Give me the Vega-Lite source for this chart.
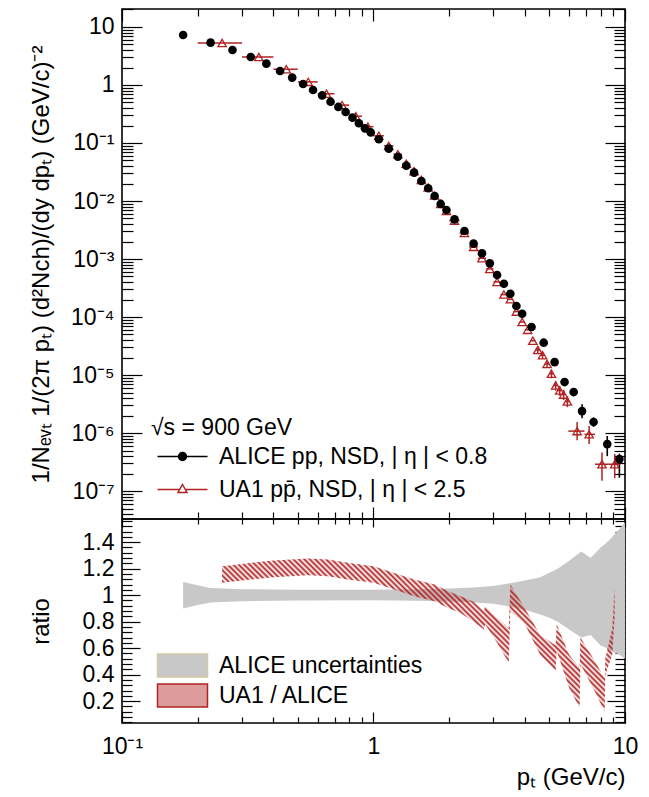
{
  "$schema": "https://vega.github.io/schema/vega-lite/v6.json",
  "autosize": {"type": "pad"},
  "padding": {"left": 28, "top": 7, "right": 5, "bottom": 5},
  "background": "white",
  "spacing": 0,
  "bounds": "flush",
  "resolve": {"scale": {"fill": "independent", "stroke": "independent", "shape": "independent"}, "legend": {"fill": "independent", "stroke": "independent", "shape": "independent"}},
  "config": {
    "view": {"stroke": "black", "strokeWidth": 1.6},
    "font": "Liberation Sans",
    "axis": {"domain": false, "grid": false, "labelFont": "Liberation Sans", "labelFontSize": 23, "labelColor": "black", "titleFont": "Liberation Sans", "titleFontSize": 24, "titleFontWeight": "normal", "titleColor": "black", "tickColor": "black", "tickWidth": 1.2, "labelFlush": false, "labelOverlap": false, "labelBound": false, "zindex": 1},
    "legend": {"labelFont": "Liberation Sans", "labelFontSize": 23, "labelColor": "black", "labelLimit": 500, "titleFont": "Liberation Sans", "titleFontSize": 23, "titleFontWeight": "normal", "titleColor": "black", "padding": 0}
  },
  "datasets": {
    "alice": [
      {"pt": 0.175, "y": 7.28}, {"pt": 0.225, "y": 5.36}, {"pt": 0.275, "y": 4.01}, {"pt": 0.325, "y": 3.04},
      {"pt": 0.375, "y": 2.33}, {"pt": 0.425, "y": 1.74}, {"pt": 0.475, "y": 1.34}, {"pt": 0.525, "y": 1.04},
      {"pt": 0.575, "y": 0.82}, {"pt": 0.625, "y": 0.66}, {"pt": 0.675, "y": 0.515}, {"pt": 0.725, "y": 0.418},
      {"pt": 0.775, "y": 0.342}, {"pt": 0.825, "y": 0.273}, {"pt": 0.875, "y": 0.219}, {"pt": 0.925, "y": 0.179},
      {"pt": 0.975, "y": 0.152}, {"pt": 1.05, "y": 0.116}, {"pt": 1.15, "y": 0.0798}, {"pt": 1.25, "y": 0.058},
      {"pt": 1.35, "y": 0.0406}, {"pt": 1.45, "y": 0.0308}, {"pt": 1.55, "y": 0.0221}, {"pt": 1.65, "y": 0.0166},
      {"pt": 1.75, "y": 0.0122}, {"pt": 1.85, "y": 0.0089}, {"pt": 1.95, "y": 0.007}, {"pt": 2.1, "y": 0.00483},
      {"pt": 2.3, "y": 0.00304}, {"pt": 2.5, "y": 0.00184}, {"pt": 2.7, "y": 0.00125}, {"pt": 2.9, "y": 0.000843},
      {"pt": 3.1, "y": 0.00053}, {"pt": 3.3, "y": 0.000375}, {"pt": 3.5, "y": 0.000252}, {"pt": 3.7, "y": 0.000155},
      {"pt": 3.9, "y": 0.000114}, {"pt": 4.25, "y": 6.73e-5}, {"pt": 4.75, "y": 3.61e-5}, {"pt": 5.25, "y": 1.67e-5},
      {"pt": 5.75, "y": 7.57e-6},
      {"pt": 6.25, "y": 5.09e-6, "ylo": 4.5e-6, "yhi": 5.7e-6},
      {"pt": 6.75, "y": 2.39e-6, "ylo": 1.8e-6, "yhi": 3.15e-6},
      {"pt": 7.5, "y": 1.55e-6, "ylo": 1.28e-6, "yhi": 1.86e-6},
      {"pt": 8.5, "y": 6.46e-7, "ylo": 4.0e-7, "yhi": 8.9e-7},
      {"pt": 9.5, "y": 3.56e-7, "ylo": 1.7e-7, "yhi": 4.4e-7}
    ],
    "ua1": [
      {"pt": 0.25, "lo": 0.2, "hi": 0.3, "y": 5.3},
      {"pt": 0.35, "lo": 0.3, "hi": 0.4, "y": 3.04},
      {"pt": 0.45, "lo": 0.4, "hi": 0.5, "y": 1.87},
      {"pt": 0.55, "lo": 0.5, "hi": 0.6, "y": 1.13},
      {"pt": 0.65, "lo": 0.6, "hi": 0.7, "y": 0.705},
      {"pt": 0.75, "lo": 0.7, "hi": 0.8, "y": 0.45},
      {"pt": 0.85, "lo": 0.8, "hi": 0.9, "y": 0.289},
      {"pt": 0.95, "lo": 0.9, "hi": 1.0, "y": 0.191},
      {"pt": 1.05, "lo": 1.0, "hi": 1.1, "y": 0.133},
      {"pt": 1.15, "lo": 1.1, "hi": 1.2, "y": 0.0894},
      {"pt": 1.25, "lo": 1.2, "hi": 1.3, "y": 0.0638},
      {"pt": 1.35, "lo": 1.3, "hi": 1.4, "y": 0.0438},
      {"pt": 1.45, "lo": 1.4, "hi": 1.5, "y": 0.0326},
      {"pt": 1.55, "lo": 1.5, "hi": 1.6, "y": 0.023},
      {"pt": 1.65, "lo": 1.6, "hi": 1.7, "y": 0.0171},
      {"pt": 1.75, "lo": 1.7, "hi": 1.8, "y": 0.0124},
      {"pt": 1.85, "lo": 1.8, "hi": 1.9, "y": 0.0089},
      {"pt": 1.95, "lo": 1.9, "hi": 2.0, "y": 0.00676},
      {"pt": 2.1, "lo": 2.0, "hi": 2.2, "y": 0.00459},
      {"pt": 2.3, "lo": 2.2, "hi": 2.4, "y": 0.0028},
      {"pt": 2.5, "lo": 2.4, "hi": 2.6, "y": 0.00162},
      {"pt": 2.7, "lo": 2.6, "hi": 2.8, "y": 0.00103},
      {"pt": 2.9, "lo": 2.8, "hi": 3.0, "y": 0.000674},
      {"pt": 3.1, "lo": 3.0, "hi": 3.2, "y": 0.000403},
      {"pt": 3.3, "lo": 3.2, "hi": 3.4, "y": 0.000244},
      {"pt": 3.5, "lo": 3.4, "hi": 3.6, "y": 0.000202},
      {"pt": 3.7, "lo": 3.6, "hi": 3.8, "y": 0.000124},
      {"pt": 3.9, "lo": 3.8, "hi": 4.0, "y": 8.2e-5},
      {"pt": 4.1, "lo": 4.0, "hi": 4.2, "y": 6.0e-5},
      {"pt": 4.3, "lo": 4.2, "hi": 4.4, "y": 3.9e-5},
      {"pt": 4.5, "lo": 4.4, "hi": 4.6, "y": 2.7e-5, "ylo": 2.3e-5, "yhi": 3.1e-5},
      {"pt": 4.7, "lo": 4.6, "hi": 4.8, "y": 2.2e-5, "ylo": 1.9e-5, "yhi": 2.5e-5},
      {"pt": 4.9, "lo": 4.8, "hi": 5.0, "y": 1.55e-5, "ylo": 1.32e-5, "yhi": 1.78e-5},
      {"pt": 5.1, "lo": 5.0, "hi": 5.2, "y": 1.05e-5, "ylo": 8.8e-6, "yhi": 1.24e-5},
      {"pt": 5.3, "lo": 5.2, "hi": 5.4, "y": 6.6e-6, "ylo": 5.4e-6, "yhi": 7.9e-6},
      {"pt": 5.5, "lo": 5.4, "hi": 5.6, "y": 5.4e-6, "ylo": 4.4e-6, "yhi": 6.5e-6},
      {"pt": 5.7, "lo": 5.6, "hi": 5.8, "y": 4.6e-6, "ylo": 3.7e-6, "yhi": 5.6e-6},
      {"pt": 5.9, "lo": 5.8, "hi": 6.0, "y": 3.5e-6, "ylo": 2.8e-6, "yhi": 4.3e-6},
      {"pt": 6.45, "lo": 5.95, "hi": 6.9, "y": 1.08e-6, "ylo": 7.5e-7, "yhi": 1.55e-6},
      {"pt": 7.2, "lo": 6.9, "hi": 7.6, "y": 9.5e-7, "ylo": 6.5e-7, "yhi": 1.32e-6},
      {"pt": 8.1, "lo": 7.6, "hi": 8.6, "y": 2.9e-7, "ylo": 1.5e-7, "yhi": 4.6e-7},
      {"pt": 9.1, "lo": 8.6, "hi": 9.6, "y": 2.9e-7, "ylo": 1.67e-7, "yhi": 4.35e-7}
    ],
    "legtop": [
      {"series": "ALICE pp, NSD, | \u03b7 | < 0.8"},
      {"series": "UA1 pp\u0304, NSD, | \u03b7 | < 2.5"}
    ],
    "band": [
      {"series": "ALICE uncertainties", "pt": 0.175, "lo": 0.9, "hi": 1.1},
      {"series": "ALICE uncertainties", "pt": 0.2, "lo": 0.925, "hi": 1.075},
      {"series": "ALICE uncertainties", "pt": 0.225, "lo": 0.945, "hi": 1.055},
      {"series": "ALICE uncertainties", "pt": 0.3, "lo": 0.955, "hi": 1.045},
      {"series": "ALICE uncertainties", "pt": 0.5, "lo": 0.96, "hi": 1.04},
      {"series": "ALICE uncertainties", "pt": 1.0, "lo": 0.962, "hi": 1.04},
      {"series": "ALICE uncertainties", "pt": 1.5, "lo": 0.958, "hi": 1.045},
      {"series": "ALICE uncertainties", "pt": 2.0, "lo": 0.953, "hi": 1.05},
      {"series": "ALICE uncertainties", "pt": 2.5, "lo": 0.945, "hi": 1.058},
      {"series": "ALICE uncertainties", "pt": 3.0, "lo": 0.935, "hi": 1.07},
      {"series": "ALICE uncertainties", "pt": 3.5, "lo": 0.915, "hi": 1.09},
      {"series": "ALICE uncertainties", "pt": 4.0, "lo": 0.89, "hi": 1.11},
      {"series": "ALICE uncertainties", "pt": 4.6, "lo": 0.855, "hi": 1.135},
      {"series": "ALICE uncertainties", "pt": 5.0, "lo": 0.83, "hi": 1.17},
      {"series": "ALICE uncertainties", "pt": 5.4, "lo": 0.8, "hi": 1.2},
      {"series": "ALICE uncertainties", "pt": 6.0, "lo": 0.74, "hi": 1.26},
      {"series": "ALICE uncertainties", "pt": 6.7, "lo": 0.68, "hi": 1.33},
      {"series": "ALICE uncertainties", "pt": 7.3, "lo": 0.7, "hi": 1.28},
      {"series": "ALICE uncertainties", "pt": 8.0, "lo": 0.62, "hi": 1.36},
      {"series": "ALICE uncertainties", "pt": 8.5, "lo": 0.6, "hi": 1.4},
      {"series": "ALICE uncertainties", "pt": 9.0, "lo": 0.57, "hi": 1.45},
      {"series": "ALICE uncertainties", "pt": 9.5, "lo": 0.55, "hi": 1.5},
      {"series": "ALICE uncertainties", "pt": 10, "lo": 0.52, "hi": 1.55}
    ],
    "hatch": [
      {"pt": 0.25, "lo": 1.093, "hi": 1.219},
      {"pt": 0.3, "lo": 1.111, "hi": 1.236},
      {"pt": 0.4, "lo": 1.136, "hi": 1.262},
      {"pt": 0.55, "lo": 1.151, "hi": 1.277},
      {"pt": 0.66, "lo": 1.143, "hi": 1.269},
      {"pt": 0.79, "lo": 1.118, "hi": 1.244},
      {"pt": 1.0, "lo": 1.093, "hi": 1.219},
      {"pt": 1.21, "lo": 1.043, "hi": 1.168},
      {"pt": 1.45, "lo": 0.992, "hi": 1.118},
      {"pt": 1.75, "lo": 0.955, "hi": 1.081},
      {"pt": 1.98, "lo": 0.904, "hi": 1.03},
      {"pt": 2.22, "lo": 0.866, "hi": 0.992},
      {"pt": 2.5, "lo": 0.8, "hi": 0.95},
      {"pt": 2.75, "lo": 0.74, "hi": 0.88},
      {"pt": 2.78, "lo": 0.78, "hi": 0.92},
      {"pt": 3.1, "lo": 0.64, "hi": 0.83},
      {"pt": 3.45, "lo": 0.49, "hi": 0.75},
      {"pt": 3.5, "lo": 0.88, "hi": 1.08},
      {"pt": 4.0, "lo": 0.78, "hi": 0.9},
      {"pt": 4.6, "lo": 0.55, "hi": 0.7},
      {"pt": 5.3, "lo": 0.43, "hi": 0.62},
      {"pt": 5.35, "lo": 0.58, "hi": 0.78},
      {"pt": 6.0, "lo": 0.3, "hi": 0.55},
      {"pt": 6.6, "lo": 0.15, "hi": 0.45},
      {"pt": 6.65, "lo": 0.48, "hi": 0.68},
      {"pt": 7.6, "lo": 0.27, "hi": 0.5},
      {"pt": 8.3, "lo": 0.12, "hi": 0.37},
      {"pt": 8.35, "lo": 0.4, "hi": 0.52},
      {"pt": 8.9, "lo": 0.55, "hi": 0.75},
      {"pt": 9.1, "lo": 0.85, "hi": 1.06}
    ]
  },
  "vconcat": [
    {
      "width": 503,
      "height": 510,
      "resolve": {"axis": {"x": "independent", "y": "independent"}},
      "layer": [
        {
          "data": {"name": "alice"},
          "transform": [{"filter": "isValid(datum.ylo)"}],
          "mark": {"type": "rule", "color": "black", "strokeWidth": 1.6},
          "encoding": {
            "x": {"field": "pt", "type": "quantitative", "scale": {"type": "log", "domain": [0.1, 10], "nice": false},
                  "axis": {"orient": "bottom", "values": [0.1, 1, 10], "labels": false, "tickSize": -12, "title": null}},
            "y": {"field": "ylo", "type": "quantitative", "scale": {"type": "log", "domain": [3.3e-8, 20.4], "nice": false},
                  "axis": {"orient": "left", "values": [1e-7, 1e-6, 1e-5, 1e-4, 0.001, 0.01, 0.1, 1, 10], "tickSize": -20, "labelPadding": 28,
                           "labelExpr": "datum.value > 5 ? '10' : datum.value > 0.5 ? '1' : datum.value > 0.05 ? '10⁻¹' : datum.value > 0.005 ? '10⁻²' : datum.value > 0.0005 ? '10⁻³' : datum.value > 0.00005 ? '10⁻⁴' : datum.value > 0.000005 ? '10⁻⁵' : datum.value > 0.0000005 ? '10⁻⁶' : '10⁻⁷'",
                           "title": "1/Nₑᵥₜ 1/(2π pₜ) (d²Nch)/(dy dpₜ) (GeV/c)⁻²", "titleX": -81, "titleY": 255, "titleAngle": 270, "titleAlign": "center", "titleBaseline": "middle"}},
            "y2": {"field": "yhi"}
          }
        },
        {
          "data": {"name": "ua1"},
          "mark": {"type": "rule", "color": "#b22222", "strokeWidth": 1.5},
          "encoding": {
            "x": {"field": "lo", "type": "quantitative", "scale": {"type": "log", "domain": [0.1, 10], "nice": false},
                  "axis": {"orient": "bottom", "values": [0.2, 0.3, 0.4, 0.5, 0.6, 0.7, 0.8, 0.9, 2, 3, 4, 5, 6, 7, 8, 9], "labels": false, "tickSize": -7, "title": null}},
            "x2": {"field": "hi"},
            "y": {"field": "y", "type": "quantitative", "scale": {"type": "log", "domain": [3.3e-8, 20.4], "nice": false},
                  "axis": {"orient": "left", "values": [4e-8, 5e-8, 6e-8, 7e-8, 8e-8, 9e-8, 2e-7, 3e-7, 4e-7, 5e-7, 6e-7, 7e-7, 8e-7, 9e-7, 2e-6, 3e-6, 4e-6, 5e-6, 6e-6, 7e-6, 8e-6, 9e-6, 2e-5, 3e-5, 4e-5, 5e-5, 6e-5, 7e-5, 8e-5, 9e-5, 2e-4, 3e-4, 4e-4, 5e-4, 6e-4, 7e-4, 8e-4, 9e-4, 0.002, 0.003, 0.004, 0.005, 0.006, 0.007, 0.008, 0.009, 0.02, 0.03, 0.04, 0.05, 0.06, 0.07, 0.08, 0.09, 0.2, 0.3, 0.4, 0.5, 0.6, 0.7, 0.8, 0.9, 2, 3, 4, 5, 6, 7, 8, 9, 20], "labels": false, "tickSize": -11, "title": null}}
          }
        },
        {
          "data": {"name": "ua1"},
          "transform": [{"filter": "isValid(datum.ylo)"}],
          "mark": {"type": "rule", "color": "#b22222", "strokeWidth": 1.5},
          "encoding": {
            "x": {"field": "pt", "type": "quantitative", "scale": {"type": "log", "domain": [0.1, 10], "nice": false},
                  "axis": {"orient": "top", "values": [0.1, 1, 10], "labels": false, "tickSize": -12, "title": null}},
            "y": {"field": "ylo", "type": "quantitative", "scale": {"type": "log", "domain": [3.3e-8, 20.4], "nice": false},
                  "axis": {"orient": "right", "values": [1e-7, 1e-6, 1e-5, 1e-4, 0.001, 0.01, 0.1, 1, 10], "labels": false, "tickSize": -20, "title": null}},
            "y2": {"field": "yhi"}
          }
        },
        {
          "data": {"name": "ua1"},
          "mark": {"type": "point", "shape": "triangle-up", "filled": false, "stroke": "#b22222", "strokeWidth": 1.3, "size": 70, "opacity": 1},
          "encoding": {
            "x": {"field": "pt", "type": "quantitative", "scale": {"type": "log", "domain": [0.1, 10], "nice": false},
                  "axis": {"orient": "top", "values": [0.2, 0.3, 0.4, 0.5, 0.6, 0.7, 0.8, 0.9, 2, 3, 4, 5, 6, 7, 8, 9], "labels": false, "tickSize": -7, "title": null}},
            "y": {"field": "y", "type": "quantitative", "scale": {"type": "log", "domain": [3.3e-8, 20.4], "nice": false},
                  "axis": {"orient": "right", "values": [4e-8, 5e-8, 6e-8, 7e-8, 8e-8, 9e-8, 2e-7, 3e-7, 4e-7, 5e-7, 6e-7, 7e-7, 8e-7, 9e-7, 2e-6, 3e-6, 4e-6, 5e-6, 6e-6, 7e-6, 8e-6, 9e-6, 2e-5, 3e-5, 4e-5, 5e-5, 6e-5, 7e-5, 8e-5, 9e-5, 2e-4, 3e-4, 4e-4, 5e-4, 6e-4, 7e-4, 8e-4, 9e-4, 0.002, 0.003, 0.004, 0.005, 0.006, 0.007, 0.008, 0.009, 0.02, 0.03, 0.04, 0.05, 0.06, 0.07, 0.08, 0.09, 0.2, 0.3, 0.4, 0.5, 0.6, 0.7, 0.8, 0.9, 2, 3, 4, 5, 6, 7, 8, 9, 20], "labels": false, "tickSize": -11, "title": null}}
          }
        },
        {
          "data": {"name": "alice"},
          "mark": {"type": "point", "shape": "circle", "filled": true, "color": "black", "size": 75, "opacity": 1},
          "encoding": {
            "x": {"field": "pt", "type": "quantitative", "scale": {"type": "log", "domain": [0.1, 10], "nice": false}, "axis": null},
            "y": {"field": "y", "type": "quantitative", "scale": {"type": "log", "domain": [3.3e-8, 20.4], "nice": false}, "axis": null}
          }
        },
        {
          "data": {"name": "legtop"},
          "mark": {"type": "point", "opacity": 0},
          "encoding": {
            "shape": {"field": "series", "type": "nominal",
                      "scale": {"domain": ["ALICE pp, NSD, | \u03b7 | < 0.8", "UA1 pp\u0304, NSD, | \u03b7 | < 2.5"],
                                "range": ["M-0.5,0H4.5M1.6,0A0.4,0.4 0 1,1 2.4,0A0.4,0.4 0 1,1 1.6,0Z", "M-0.5,0H1.75M2.25,0H4.5M2,-0.5L2.45,0.3L1.55,0.3Z"]},
                      "legend": {"orient": "none", "legendX": 29, "legendY": 408, "title": "√s = 900 GeV", "titlePadding": 5, "symbolSize": 400, "symbolStrokeWidth": 1.5, "labelOffset": 45, "rowPadding": 9, "symbolOpacity": 1}},
            "stroke": {"field": "series", "type": "nominal",
                       "scale": {"domain": ["ALICE pp, NSD, | \u03b7 | < 0.8", "UA1 pp\u0304, NSD, | \u03b7 | < 2.5"], "range": ["black", "#b22222"]}},
            "fill": {"field": "series", "type": "nominal",
                     "scale": {"domain": ["ALICE pp, NSD, | \u03b7 | < 0.8", "UA1 pp\u0304, NSD, | \u03b7 | < 2.5"], "range": ["black", "white"]}}
          }
        }
      ]
    },
    {
      "width": 503,
      "height": 204,
      "resolve": {"axis": {"x": "independent", "y": "independent"}},
      "layer": [
        {
          "data": {"name": "band"},
          "mark": {"type": "area", "clip": true},
          "encoding": {
            "x": {"field": "pt", "type": "quantitative", "scale": {"type": "log", "domain": [0.1, 10], "nice": false},
                  "axis": {"orient": "bottom", "values": [0.1, 1, 10], "tickSize": -11, "labelPadding": 23,
                           "labelExpr": "datum.value < 0.5 ? '10⁻¹' : datum.value < 5 ? '1' : '10'",
                           "title": "pₜ (GeV/c)", "titleX": 503, "titleY": 61, "titleAlign": "right", "titleBaseline": "alphabetic"}},
            "y": {"field": "lo", "type": "quantitative", "scale": {"domain": [0.035, 1.575], "nice": false, "zero": false},
                  "axis": {"orient": "left", "values": [0.2, 0.4, 0.6, 0.8, 1, 1.2, 1.4], "tickSize": -18, "labelPadding": 26,
                           "labelExpr": "datum.value == 1 ? '1' : format(datum.value, '.1f')",
                           "title": "ratio", "titleX": -81, "titleY": 102, "titleAngle": 270, "titleAlign": "center", "titleBaseline": "middle"}},
            "y2": {"field": "hi"},
            "fill": {"field": "series", "type": "nominal",
                     "scale": {"domain": ["ALICE uncertainties", "UA1 / ALICE"], "range": ["#c8c8c8", "#dc9c9c"]},
                     "legend": {"orient": "none", "legendX": 29, "legendY": 135, "title": null, "symbolSize": 400, "symbolType": "M-0.5,-1.15H4.5V1.15H-0.5Z", "symbolStrokeWidth": 1.5, "symbolStrokeColor": "#b22222", "labelOffset": 45, "rowPadding": 1,
                                "encode": {"symbols": {"update": {"stroke": {"signal": "datum.value === 'UA1 / ALICE' ? '#b22222' : '#d2c7a2'"}, "strokeWidth": {"value": 1.5}, "opacity": {"value": 1}}}}}}
          }
        },
        {
          "data": {"name": "hatch"},
          "mark": {"type": "area", "clip": true,
                   "fill": {"gradient": "linear", "x1": 0, "y1": 1, "x2": 1.2065, "y2": 0.5289, "stops": [
{"offset":0,"color":"#b22222"},{"offset":0.005,"color":"rgba(178,34,34,0)"},{"offset":0.01,"color":"#b22222"},{"offset":0.015,"color":"rgba(178,34,34,0)"},{"offset":0.02,"color":"#b22222"},{"offset":0.025,"color":"rgba(178,34,34,0)"},{"offset":0.03,"color":"#b22222"},{"offset":0.035,"color":"rgba(178,34,34,0)"},{"offset":0.04,"color":"#b22222"},{"offset":0.045,"color":"rgba(178,34,34,0)"},
{"offset":0.05,"color":"#b22222"},{"offset":0.055,"color":"rgba(178,34,34,0)"},{"offset":0.06,"color":"#b22222"},{"offset":0.065,"color":"rgba(178,34,34,0)"},{"offset":0.07,"color":"#b22222"},{"offset":0.075,"color":"rgba(178,34,34,0)"},{"offset":0.08,"color":"#b22222"},{"offset":0.085,"color":"rgba(178,34,34,0)"},{"offset":0.09,"color":"#b22222"},{"offset":0.095,"color":"rgba(178,34,34,0)"},
{"offset":0.1,"color":"#b22222"},{"offset":0.105,"color":"rgba(178,34,34,0)"},{"offset":0.11,"color":"#b22222"},{"offset":0.115,"color":"rgba(178,34,34,0)"},{"offset":0.12,"color":"#b22222"},{"offset":0.125,"color":"rgba(178,34,34,0)"},{"offset":0.13,"color":"#b22222"},{"offset":0.135,"color":"rgba(178,34,34,0)"},{"offset":0.14,"color":"#b22222"},{"offset":0.145,"color":"rgba(178,34,34,0)"},
{"offset":0.15,"color":"#b22222"},{"offset":0.155,"color":"rgba(178,34,34,0)"},{"offset":0.16,"color":"#b22222"},{"offset":0.165,"color":"rgba(178,34,34,0)"},{"offset":0.17,"color":"#b22222"},{"offset":0.175,"color":"rgba(178,34,34,0)"},{"offset":0.18,"color":"#b22222"},{"offset":0.185,"color":"rgba(178,34,34,0)"},{"offset":0.19,"color":"#b22222"},{"offset":0.195,"color":"rgba(178,34,34,0)"},
{"offset":0.2,"color":"#b22222"},{"offset":0.205,"color":"rgba(178,34,34,0)"},{"offset":0.21,"color":"#b22222"},{"offset":0.215,"color":"rgba(178,34,34,0)"},{"offset":0.22,"color":"#b22222"},{"offset":0.225,"color":"rgba(178,34,34,0)"},{"offset":0.23,"color":"#b22222"},{"offset":0.235,"color":"rgba(178,34,34,0)"},{"offset":0.24,"color":"#b22222"},{"offset":0.245,"color":"rgba(178,34,34,0)"},
{"offset":0.25,"color":"#b22222"},{"offset":0.255,"color":"rgba(178,34,34,0)"},{"offset":0.26,"color":"#b22222"},{"offset":0.265,"color":"rgba(178,34,34,0)"},{"offset":0.27,"color":"#b22222"},{"offset":0.275,"color":"rgba(178,34,34,0)"},{"offset":0.28,"color":"#b22222"},{"offset":0.285,"color":"rgba(178,34,34,0)"},{"offset":0.29,"color":"#b22222"},{"offset":0.295,"color":"rgba(178,34,34,0)"},
{"offset":0.3,"color":"#b22222"},{"offset":0.305,"color":"rgba(178,34,34,0)"},{"offset":0.31,"color":"#b22222"},{"offset":0.315,"color":"rgba(178,34,34,0)"},{"offset":0.32,"color":"#b22222"},{"offset":0.325,"color":"rgba(178,34,34,0)"},{"offset":0.33,"color":"#b22222"},{"offset":0.335,"color":"rgba(178,34,34,0)"},{"offset":0.34,"color":"#b22222"},{"offset":0.345,"color":"rgba(178,34,34,0)"},
{"offset":0.35,"color":"#b22222"},{"offset":0.355,"color":"rgba(178,34,34,0)"},{"offset":0.36,"color":"#b22222"},{"offset":0.365,"color":"rgba(178,34,34,0)"},{"offset":0.37,"color":"#b22222"},{"offset":0.375,"color":"rgba(178,34,34,0)"},{"offset":0.38,"color":"#b22222"},{"offset":0.385,"color":"rgba(178,34,34,0)"},{"offset":0.39,"color":"#b22222"},{"offset":0.395,"color":"rgba(178,34,34,0)"},
{"offset":0.4,"color":"#b22222"},{"offset":0.405,"color":"rgba(178,34,34,0)"},{"offset":0.41,"color":"#b22222"},{"offset":0.415,"color":"rgba(178,34,34,0)"},{"offset":0.42,"color":"#b22222"},{"offset":0.425,"color":"rgba(178,34,34,0)"},{"offset":0.43,"color":"#b22222"},{"offset":0.435,"color":"rgba(178,34,34,0)"},{"offset":0.44,"color":"#b22222"},{"offset":0.445,"color":"rgba(178,34,34,0)"},
{"offset":0.45,"color":"#b22222"},{"offset":0.455,"color":"rgba(178,34,34,0)"},{"offset":0.46,"color":"#b22222"},{"offset":0.465,"color":"rgba(178,34,34,0)"},{"offset":0.47,"color":"#b22222"},{"offset":0.475,"color":"rgba(178,34,34,0)"},{"offset":0.48,"color":"#b22222"},{"offset":0.485,"color":"rgba(178,34,34,0)"},{"offset":0.49,"color":"#b22222"},{"offset":0.495,"color":"rgba(178,34,34,0)"},
{"offset":0.5,"color":"#b22222"},{"offset":0.505,"color":"rgba(178,34,34,0)"},{"offset":0.51,"color":"#b22222"},{"offset":0.515,"color":"rgba(178,34,34,0)"},{"offset":0.52,"color":"#b22222"},{"offset":0.525,"color":"rgba(178,34,34,0)"},{"offset":0.53,"color":"#b22222"},{"offset":0.535,"color":"rgba(178,34,34,0)"},{"offset":0.54,"color":"#b22222"},{"offset":0.545,"color":"rgba(178,34,34,0)"},
{"offset":0.55,"color":"#b22222"},{"offset":0.555,"color":"rgba(178,34,34,0)"},{"offset":0.56,"color":"#b22222"},{"offset":0.565,"color":"rgba(178,34,34,0)"},{"offset":0.57,"color":"#b22222"},{"offset":0.575,"color":"rgba(178,34,34,0)"},{"offset":0.58,"color":"#b22222"},{"offset":0.585,"color":"rgba(178,34,34,0)"},{"offset":0.59,"color":"#b22222"},{"offset":0.595,"color":"rgba(178,34,34,0)"},
{"offset":0.6,"color":"#b22222"},{"offset":0.605,"color":"rgba(178,34,34,0)"},{"offset":0.61,"color":"#b22222"},{"offset":0.615,"color":"rgba(178,34,34,0)"},{"offset":0.62,"color":"#b22222"},{"offset":0.625,"color":"rgba(178,34,34,0)"},{"offset":0.63,"color":"#b22222"},{"offset":0.635,"color":"rgba(178,34,34,0)"},{"offset":0.64,"color":"#b22222"},{"offset":0.645,"color":"rgba(178,34,34,0)"},
{"offset":0.65,"color":"#b22222"},{"offset":0.655,"color":"rgba(178,34,34,0)"},{"offset":0.66,"color":"#b22222"},{"offset":0.665,"color":"rgba(178,34,34,0)"},{"offset":0.67,"color":"#b22222"},{"offset":0.675,"color":"rgba(178,34,34,0)"},{"offset":0.68,"color":"#b22222"},{"offset":0.685,"color":"rgba(178,34,34,0)"},{"offset":0.69,"color":"#b22222"},{"offset":0.695,"color":"rgba(178,34,34,0)"},
{"offset":0.7,"color":"#b22222"},{"offset":0.705,"color":"rgba(178,34,34,0)"},{"offset":0.71,"color":"#b22222"},{"offset":0.715,"color":"rgba(178,34,34,0)"},{"offset":0.72,"color":"#b22222"},{"offset":0.725,"color":"rgba(178,34,34,0)"},{"offset":0.73,"color":"#b22222"},{"offset":0.735,"color":"rgba(178,34,34,0)"},{"offset":0.74,"color":"#b22222"},{"offset":0.745,"color":"rgba(178,34,34,0)"},
{"offset":0.75,"color":"#b22222"},{"offset":0.755,"color":"rgba(178,34,34,0)"},{"offset":0.76,"color":"#b22222"},{"offset":0.765,"color":"rgba(178,34,34,0)"},{"offset":0.77,"color":"#b22222"},{"offset":0.775,"color":"rgba(178,34,34,0)"},{"offset":0.78,"color":"#b22222"},{"offset":0.785,"color":"rgba(178,34,34,0)"},{"offset":0.79,"color":"#b22222"},{"offset":0.795,"color":"rgba(178,34,34,0)"},
{"offset":0.8,"color":"#b22222"},{"offset":0.805,"color":"rgba(178,34,34,0)"},{"offset":0.81,"color":"#b22222"},{"offset":0.815,"color":"rgba(178,34,34,0)"},{"offset":0.82,"color":"#b22222"},{"offset":0.825,"color":"rgba(178,34,34,0)"},{"offset":0.83,"color":"#b22222"},{"offset":0.835,"color":"rgba(178,34,34,0)"},{"offset":0.84,"color":"#b22222"},{"offset":0.845,"color":"rgba(178,34,34,0)"},
{"offset":0.85,"color":"#b22222"},{"offset":0.855,"color":"rgba(178,34,34,0)"},{"offset":0.86,"color":"#b22222"},{"offset":0.865,"color":"rgba(178,34,34,0)"},{"offset":0.87,"color":"#b22222"},{"offset":0.875,"color":"rgba(178,34,34,0)"},{"offset":0.88,"color":"#b22222"},{"offset":0.885,"color":"rgba(178,34,34,0)"},{"offset":0.89,"color":"#b22222"},{"offset":0.895,"color":"rgba(178,34,34,0)"},
{"offset":0.9,"color":"#b22222"},{"offset":0.905,"color":"rgba(178,34,34,0)"},{"offset":0.91,"color":"#b22222"},{"offset":0.915,"color":"rgba(178,34,34,0)"},{"offset":0.92,"color":"#b22222"},{"offset":0.925,"color":"rgba(178,34,34,0)"},{"offset":0.93,"color":"#b22222"},{"offset":0.935,"color":"rgba(178,34,34,0)"},{"offset":0.94,"color":"#b22222"},{"offset":0.945,"color":"rgba(178,34,34,0)"},
{"offset":0.95,"color":"#b22222"},{"offset":0.955,"color":"rgba(178,34,34,0)"},{"offset":0.96,"color":"#b22222"},{"offset":0.965,"color":"rgba(178,34,34,0)"},{"offset":0.97,"color":"#b22222"},{"offset":0.975,"color":"rgba(178,34,34,0)"},{"offset":0.98,"color":"#b22222"},{"offset":0.985,"color":"rgba(178,34,34,0)"},{"offset":0.99,"color":"#b22222"},{"offset":0.995,"color":"rgba(178,34,34,0)"},
{"offset":1,"color":"#b22222"}]}},
          "encoding": {
            "x": {"field": "pt", "type": "quantitative", "scale": {"type": "log", "domain": [0.1, 10], "nice": false},
                  "axis": {"orient": "bottom", "values": [0.2, 0.3, 0.4, 0.5, 0.6, 0.7, 0.8, 0.9, 2, 3, 4, 5, 6, 7, 8, 9], "labels": false, "tickSize": -6, "title": null}},
            "y": {"field": "lo", "type": "quantitative", "scale": {"domain": [0.035, 1.575], "nice": false, "zero": false},
                  "axis": {"orient": "left", "values": [0.04, 0.08, 0.12, 0.16, 0.24, 0.28, 0.32, 0.36, 0.44, 0.48, 0.52, 0.56, 0.64, 0.68, 0.72, 0.76, 0.84, 0.88, 0.92, 0.96, 1.04, 1.08, 1.12, 1.16, 1.24, 1.28, 1.32, 1.36, 1.44, 1.48, 1.52, 1.56], "labels": false, "tickSize": -10, "title": null}},
            "y2": {"field": "hi"}
          }
        },
        {
          "mark": {"type": "rule", "color": "black", "strokeWidth": 1.5},
          "encoding": {
            "x": {"datum": 0.1, "type": "quantitative", "scale": {"type": "log", "domain": [0.1, 10], "nice": false},
                  "axis": {"orient": "top", "values": [0.1, 1, 10], "labels": false, "tickSize": -8, "title": null}},
            "x2": {"datum": 10},
            "y": {"datum": 1, "type": "quantitative", "scale": {"domain": [0.035, 1.575], "nice": false, "zero": false},
                  "axis": {"orient": "right", "values": [0.2, 0.4, 0.6, 0.8, 1, 1.2, 1.4], "labels": false, "tickSize": -18, "title": null}}
          }
        },
        {
          "mark": {"type": "rule", "color": "black", "strokeWidth": 1.5},
          "encoding": {
            "x": {"datum": 0.1, "type": "quantitative", "scale": {"type": "log", "domain": [0.1, 10], "nice": false},
                  "axis": {"orient": "top", "values": [0.2, 0.3, 0.4, 0.5, 0.6, 0.7, 0.8, 0.9, 2, 3, 4, 5, 6, 7, 8, 9], "labels": false, "tickSize": -5, "title": null}},
            "x2": {"datum": 10},
            "y": {"datum": 1, "type": "quantitative", "scale": {"domain": [0.035, 1.575], "nice": false, "zero": false},
                  "axis": {"orient": "right", "values": [0.04, 0.08, 0.12, 0.16, 0.24, 0.28, 0.32, 0.36, 0.44, 0.48, 0.52, 0.56, 0.64, 0.68, 0.72, 0.76, 0.84, 0.88, 0.92, 0.96, 1.04, 1.08, 1.12, 1.16, 1.24, 1.28, 1.32, 1.36, 1.44, 1.48, 1.52, 1.56], "labels": false, "tickSize": -10, "title": null}}
          }
        }
      ]
    }
  ]
}
